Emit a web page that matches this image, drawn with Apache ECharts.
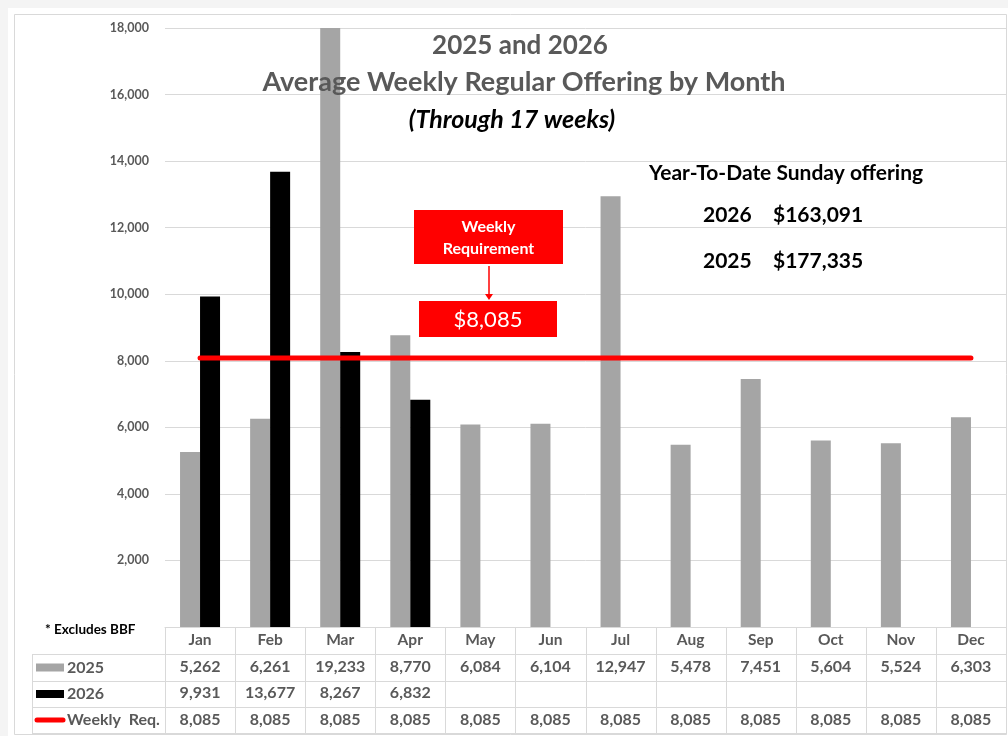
<!DOCTYPE html>
<html>
<head>
<meta charset="utf-8">
<script src="https://cdn.jsdelivr.net/npm/echarts@6/dist/echarts.min.js"></script>
<style>
html,body{margin:0;padding:0;background:#f4f4f4;}
#chart{position:absolute;left:0;top:0;width:1008px;height:736px;}
</style>
</head>
<body>
<div id="chart"></div>
<script>
var months = ['Jan','Feb','Mar','Apr','May','Jun','Jul','Aug','Sep','Oct','Nov','Dec'];
var offering2025 = [5262, 6261, 19233, 8770, 6084, 6104, 12947, 5478, 7451, 5604, 5524, 6303];
var offering2026 = [9931, 13677, 8267, 6832, null, null, null, null, null, null, null, null];
var weeklyReq = [8085, 8085, 8085, 8085, 8085, 8085, 8085, 8085, 8085, 8085, 8085, 8085];
var yTicks = [0, 2000, 4000, 6000, 8000, 10000, 12000, 14000, 16000, 18000];
var ytd = [['2026', 163091], ['2025', 177335]];

var FONT = 'Lato, "Liberation Sans", sans-serif';
var GRAY_TXT = '#595959';
function fmt(v){ return (v === null || v === undefined) ? '' : v.toLocaleString('en-US'); }

var chart = echarts.init(document.getElementById('chart'), null, {renderer:'canvas'});
var ROW = 26.5;

var option = {
  backgroundColor: '#f4f4f4',
  animation: false,
  grid: {left: 165, right: 2, top: 28, bottom: 109, containLabel: false},
  xAxis: {
    type: 'category',
    data: months,
    axisLine: {show: true, lineStyle: {color: '#d9d9d9', width: 1}},
    axisTick: {show: false},
    axisLabel: {
      interval: 0,
      margin: 0,
      formatter: function(val, idx){
        var a = fmt(offering2025[idx]) || ' ';
        var b = fmt(offering2026[idx]) || ' ';
        var c = fmt(weeklyReq[idx]) || ' ';
        return '{m|' + val + '}\n{v|' + a + '}\n{v|' + b + '}\n{v|' + c + '}';
      },
      rich: {
        m: {fontFamily: FONT, fontWeight: 'bold', fontSize: 15.5, color: GRAY_TXT, lineHeight: ROW, align: 'center'},
        v: {fontFamily: FONT, fontWeight: 'bold', fontSize: 16, color: GRAY_TXT, lineHeight: ROW, align: 'center'}
      }
    },
    splitLine: {show: false}
  },
  yAxis: {
    type: 'value',
    min: yTicks[0],
    max: yTicks[yTicks.length - 1],
    interval: yTicks[1] - yTicks[0],
    axisLine: {show: false},
    axisTick: {show: false},
    axisLabel: {
      margin: 16,
      fontFamily: FONT, fontWeight: 'bold', fontSize: 12.5, color: GRAY_TXT,
      formatter: function(v){ return v === 0 ? '' : fmt(v); }
    },
    splitLine: {show: true, lineStyle: {color: '#d9d9d9', width: 1}}
  },
  series: [
    {name: '2025', type: 'bar', data: offering2025, barWidth: 20, barGap: '0%',
     itemStyle: {color: '#a5a5a5'}, clip: true, z: 2},
    {name: '2026', type: 'bar', data: offering2026, barWidth: 20,
     itemStyle: {color: '#000000'}, clip: true, z: 2},
    {name: 'Weekly Req.', type: 'line', data: weeklyReq, symbol: 'none',
     lineStyle: {color: '#ff0000', width: 5, cap: 'round'}, z: 5}
  ]
};
chart.setOption(option);

var axisY = chart.convertToPixel({yAxisIndex: 0}, 0);
var c0 = chart.convertToPixel({xAxisIndex: 0}, 0);
var c1 = chart.convertToPixel({xAxisIndex: 0}, 1);
var band = c1 - c0;
var leftEdge = c0 - band / 2;
var rightEdge = chart.convertToPixel({xAxisIndex: 0}, months.length - 1) + band / 2;
var tableLeft = 32;
var LC = '#d9d9d9';
var g = [];

g.push({type: 'rect', shape: {x: 8, y: 8, width: 1000, height: 728}, style: {fill: '#ffffff'}, z: -10, silent: true});
g.push({type: 'rect', shape: {x: 14.5, y: 14.5, width: 992, height: 720}, style: {fill: 'none', stroke: LC, lineWidth: 1}, z: -9, silent: true});

function hline(x1, x2, y){ g.push({type:'line', shape:{x1:x1, y1:y, x2:x2, y2:y}, style:{stroke: LC, lineWidth: 1}, z: 1, silent: true}); }
function vline(x, y1, y2){ g.push({type:'line', shape:{x1:x, y1:y1, x2:x, y2:y2}, style:{stroke: LC, lineWidth: 1}, z: 1, silent: true}); }

var rowsY = [axisY, axisY + 27, axisY + 54, axisY + 80, axisY + 106];
hline(tableLeft, rightEdge, Math.round(rowsY[1]) + 0.5);
hline(tableLeft, rightEdge, Math.round(rowsY[2]) + 0.5);
hline(tableLeft, rightEdge, Math.round(rowsY[3]) + 0.5);
hline(tableLeft, rightEdge, Math.round(rowsY[4]) + 0.5);
vline(tableLeft + 0.5, rowsY[1], rowsY[4]);
for (var i = 0; i <= months.length; i++) {
  var x = Math.round(leftEdge + band * i) + 0.5;
  vline(x, axisY, rowsY[4]);
}

var rowC = [rowsY[1] + 13.5, rowsY[2] + 13, rowsY[3] + 13];
var lblStyle = {fontFamily: FONT, fontWeight: 'bold', fontSize: 16, fill: GRAY_TXT, textVerticalAlign: 'middle', textAlign: 'left'};
g.push({type: 'rect', shape: {x: 36, y: rowC[0] - 4, width: 28, height: 8}, style: {fill: '#a5a5a5'}, z: 3});
g.push({type: 'text', x: 67, y: rowC[0], style: Object.assign({text: '2025'}, lblStyle), z: 3});
g.push({type: 'rect', shape: {x: 36, y: rowC[1] - 4, width: 28, height: 8}, style: {fill: '#000000'}, z: 3});
g.push({type: 'text', x: 67, y: rowC[1], style: Object.assign({text: '2026'}, lblStyle), z: 3});
g.push({type: 'line', shape: {x1: 37, y1: rowC[2], x2: 63, y2: rowC[2]}, style: {stroke: '#ff0000', lineWidth: 5, lineCap: 'round'}, z: 3});
g.push({type: 'text', x: 67, y: rowC[2], style: Object.assign({text: 'Weekly  Req.'}, lblStyle), z: 3});

g.push({type: 'text', x: 45, y: axisY + 3, style: {text: '* Excludes BBF', fontFamily: FONT, fontWeight: 'bold', fontSize: 13.5, fill: '#000', textVerticalAlign: 'middle'}, z: 3});

g.push({type: 'text', x: 520, y: 46, style: {text: '2025 and 2026', fontFamily: FONT, fontWeight: 'bold', fontSize: 26, fill: GRAY_TXT, textAlign: 'center', textVerticalAlign: 'middle'}, z: 6});
g.push({type: 'text', x: 524, y: 82, style: {text: 'Average Weekly Regular Offering by Month', fontFamily: FONT, fontWeight: 'bold', fontSize: 27, fill: GRAY_TXT, textAlign: 'center', textVerticalAlign: 'middle'}, z: 6});
g.push({type: 'text', x: 512, y: 120, style: {text: '(Through 17 weeks)', fontFamily: FONT, fontWeight: 'bold', fontStyle: 'italic', fontSize: 25, fill: '#000', textAlign: 'center', textVerticalAlign: 'middle'}, z: 6});

g.push({type: 'text', x: 786, y: 173, style: {text: 'Year-To-Date Sunday offering', fontFamily: FONT, fontWeight: 'bold', fontSize: 21, fill: '#000', textAlign: 'center', textVerticalAlign: 'middle'}, z: 6});
var ytdY = [215, 261];
ytd.forEach(function(r, k){
  g.push({type: 'text', x: 703, y: ytdY[k], style: {text: r[0], fontFamily: FONT, fontWeight: 'bold', fontSize: 21, fill: '#000', textVerticalAlign: 'middle'}, z: 6});
  g.push({type: 'text', x: 773, y: ytdY[k], style: {text: '$' + fmt(r[1]), fontFamily: FONT, fontWeight: 'bold', fontSize: 21, fill: '#000', textVerticalAlign: 'middle'}, z: 6});
});

g.push({type: 'rect', shape: {x: 414, y: 210, width: 149, height: 54}, style: {fill: '#ff0000'}, z: 6});
g.push({type: 'text', x: 488.5, y: 238, style: {text: 'Weekly\nRequirement', fontFamily: FONT, fontWeight: 'bold', fontSize: 16, lineHeight: 22, fill: '#fff', textAlign: 'center', textVerticalAlign: 'middle'}, z: 7});
g.push({type: 'line', shape: {x1: 489, y1: 266, x2: 489, y2: 296}, style: {stroke: '#ff0000', lineWidth: 1.5}, z: 6});
g.push({type: 'polygon', shape: {points: [[485, 294], [493, 294], [489, 300]]}, style: {fill: '#ff0000'}, z: 6});
g.push({type: 'rect', shape: {x: 419, y: 301, width: 138, height: 36}, style: {fill: '#ff0000'}, z: 6});
g.push({type: 'text', x: 488, y: 320, style: {text: '$' + fmt(weeklyReq[0]), fontFamily: FONT, fontSize: 22, fill: '#fff', textAlign: 'center', textVerticalAlign: 'middle'}, z: 7});

chart.setOption({graphic: {elements: g}});
</script>
</body>
</html>
